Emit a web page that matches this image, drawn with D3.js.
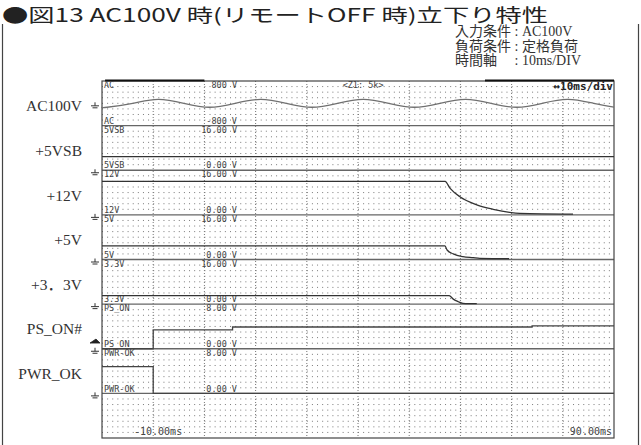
<!DOCTYPE html>
<html>
<head>
<meta charset="utf-8">
<script src="https://cdn.jsdelivr.net/npm/d3@7"></script>
<style>
    body { margin: 0; background: #fff; }
    svg { display: block; }
    .scope-txt { font-family: 'DejaVu Sans Mono', monospace; font-size: 8.5px; fill: #444; }
    .side { font-family: 'Liberation Serif', 'DejaVu Serif', 'Noto Sans CJK JP', serif; font-size: 15.5px; fill: #333; }
    .note { font-family: 'Liberation Serif', 'Noto Sans CJK JP', serif; font-size: 14px; fill: #333; }
</style>
</head>
<body>
<svg width="641" height="445"></svg>
<script>
// channel rows, top to bottom
const channels = ['AC', '5VSB', '12V', '5V', '3.3V', 'PS_ON', 'PWR-OK'];
const sideLabels = ['AC100V', '+5VSB', '+12V', '+5V', '+3．3V', 'PS_ON#', 'PWR_OK'];
const topScale = ['800 V', '16.00 V', '16.00 V', '16.00 V', '16.00 V', '8.00 V', '8.00 V'];
const bottomScale = ['-800 V', '0.00 V', '0.00 V', '0.00 V', '0.00 V', '0.00 V', '0.00 V'];
const ranges = [[-800, 800], [0, 16], [0, 16], [0, 16], [0, 16], [0, 8], [0, 8]];
const timeLabels = ['-10.00ms', '90.00ms'];

// traces (time ms / volts)
const acTime = [-10, -9, -4, 1, 6, 11, 16, 21, 26, 31, 36, 41, 46, 51, 56, 61, 66, 71, 76, 81, 86, 90];
const acVolt = [-134, -141, 0, 141, 0, -141, 0, 141, 0, -141, 0, 141, 0, -141, 0, 141, 0, -141, 0, 141, 0, -134];
const vsbTime = [-10, 90];
const vsbVolt = [4.9, 4.9];
const v12Time = [-10, 57, 58, 59.9, 63.2, 66.4, 69.6, 71.6, 82];
const v12Volt = [12, 12, 9.5, 6.5, 3.6, 2.0, 0.9, 0.55, 0.3];
const v5Time = [-10, 57, 57.4, 58.6, 60.5, 62.5, 63.8, 69.5];
const v5Volt = [4.85, 4.85, 3.4, 2.0, 1.0, 0.65, 0.43, 0.3];
const v33Time = [-10, 57.8, 58.6, 59.6, 60.5, 63.2];
const v33Volt = [3.05, 3.05, 1.8, 0.86, 0.3, 0.15];
const psonTime = [-10, 0, 15.5, 74, 90];
const psonVolt = [0, 3.4, 3.9, 4.1, 4.1];
const pwrokTime = [-10, 0, 90];
const pwrokVolt = [4.8, 0, 0];

const zoomBar = [[-9.4, 10], [64.8, 90]];
const trigLevel = 1.2;

const svg = d3.select('svg');

const xScale = d3.scaleLinear().domain([-10, 90]).range([102, 614]);
const divScale = d3.scaleLinear().domain([0, 8]).range([81, 438]);
const yScales = ranges.map((r, i) => d3.scaleLinear().domain(r).range([divScale(i + 1), divScale(i)]));

// outer frame bits
svg.append('line').attr('x1', 2.5).attr('x2', 2.5).attr('y1', 24).attr('y2', 445)
    .attr('stroke', '#444').attr('stroke-width', 1.2);
svg.append('line').attr('x1', 638.5).attr('x2', 638.5).attr('y1', 24).attr('y2', 445)
    .attr('stroke', '#444').attr('stroke-width', 1.2);

// title + conditions
svg.append('text')
    .attr('x', 2).attr('y', 21.5)
    .attr('textLength', 546).attr('lengthAdjust', 'spacingAndGlyphs')
    .style('font-family', "'Noto Sans CJK JP', sans-serif")
    .style('font-size', '18.5px').style('fill', '#222')
    .text('●図13 AC100V 時(リモートOFF 時)立下り特性');

const notes = ['入力条件 : AC100V', '負荷条件 : 定格負荷', '時間軸　 : 10ms/DIV'];
svg.selectAll('.note').data(notes).enter().append('text')
    .attr('class', 'note')
    .attr('x', 455)
    .attr('y', (d, i) => 36 + i * 14.5)
    .text(d => d);

// grid
const grid = svg.append('g');
const rows = d3.range(0, 64).filter(k => k % 8 !== 0).map(k => k / 8);
grid.selectAll('.dotrow').data(rows).enter().append('line')
    .attr('x1', xScale(-10)).attr('x2', xScale(90))
    .attr('y1', d => divScale(d)).attr('y2', d => divScale(d))
    .attr('stroke', '#7a7a7a').attr('stroke-width', 1)
    .attr('stroke-dasharray', '1 4.12');

grid.selectAll('.vmajor').data(d3.range(0, 90, 10)).enter().append('line')
    .attr('x1', d => xScale(d)).attr('x2', d => xScale(d))
    .attr('y1', divScale(0)).attr('y2', divScale(8))
    .attr('stroke', '#777').attr('stroke-width', 1)
    .attr('stroke-dasharray', '1 2');

grid.selectAll('.hmajor').data(d3.range(1, 8)).enter().append('line')
    .attr('x1', xScale(-10)).attr('x2', xScale(90))
    .attr('y1', d => divScale(d)).attr('y2', d => divScale(d))
    .attr('stroke', '#666').attr('stroke-width', 1.3);

grid.append('rect')
    .attr('x', xScale(-10)).attr('y', divScale(0))
    .attr('width', xScale(90) - xScale(-10)).attr('height', divScale(8) - divScale(0))
    .attr('fill', 'none').attr('stroke', '#444').attr('stroke-width', 1.2);

grid.selectAll('.zbar').data(zoomBar).enter().append('line')
    .attr('x1', d => xScale(d[0])).attr('x2', d => xScale(d[1]))
    .attr('y1', divScale(0) - 0.5).attr('y2', divScale(0) - 0.5)
    .attr('stroke', '#111').attr('stroke-width', 2.2);

// channel labels inside the scope
channels.forEach((c, i) => {
    const top = divScale(i), bot = divScale(i + 1);
    svg.append('text').attr('class', 'scope-txt').attr('x', 104).attr('y', top + 7).text(c);
    svg.append('text').attr('class', 'scope-txt').attr('x', 237).attr('y', top + 7)
        .attr('text-anchor', 'end').text(topScale[i]);
    svg.append('text').attr('class', 'scope-txt').attr('x', 104).attr('y', bot - 1.8).text(c);
    svg.append('text').attr('class', 'scope-txt').attr('x', 237).attr('y', bot - 1.8)
        .attr('text-anchor', 'end').text(bottomScale[i]);

    svg.append('text').attr('class', 'side')
        .attr('x', 82).attr('y', (top + bot) / 2 + 8)
        .attr('text-anchor', 'end').text(sideLabels[i]);

    // ground marker at the 0 V level
    const g0 = yScales[i](0);
    svg.append('path')
        .attr('d', `M95,${g0 - 1}V${g0 + 2.5}M91,${g0 + 2.5}H99M92.5,${g0 + 4.5}H97.5`)
        .attr('stroke', '#333').attr('stroke-width', 1).attr('fill', 'none');
});

svg.append('text').attr('class', 'scope-txt').attr('x', xScale(37)).attr('y', divScale(0) + 7)
    .text('<Z1: 5k>');
svg.append('text').attr('x', 613).attr('y', divScale(0) + 9)
    .attr('text-anchor', 'end')
    .style('font-family', "'DejaVu Sans Mono', monospace").style('font-size', '11px')
    .style('font-weight', 'bold').style('fill', '#222')
    .text('↔10ms/div');

svg.append('text').attr('class', 'scope-txt').style('font-size', '10px')
    .attr('x', xScale(-10) + 32).attr('y', divScale(8) - 3).text(timeLabels[0]);
svg.append('text').attr('class', 'scope-txt').style('font-size', '10px')
    .attr('x', xScale(90) - 2).attr('y', divScale(8) - 3)
    .attr('text-anchor', 'end').text(timeLabels[1]);

// trigger marker on PS_ON
const ty = yScales[5](trigLevel);
svg.append('path')
    .attr('d', `M90,${ty + 1}H100L96,${ty - 3}Z`)
    .attr('fill', '#222').attr('stroke', '#222').attr('stroke-width', 0.8);

// traces
const traces = [
    { ch: 0, t: acTime, v: acVolt, curve: d3.curveNatural, color: '#707070' },
    { ch: 1, t: vsbTime, v: vsbVolt, curve: d3.curveLinear, color: '#333' },
    { ch: 2, t: v12Time, v: v12Volt, curve: d3.curveMonotoneX, color: '#333' },
    { ch: 3, t: v5Time, v: v5Volt, curve: d3.curveMonotoneX, color: '#333' },
    { ch: 4, t: v33Time, v: v33Volt, curve: d3.curveMonotoneX, color: '#333' },
    { ch: 5, t: psonTime, v: psonVolt, curve: d3.curveStepAfter, color: '#444' },
    { ch: 6, t: pwrokTime, v: pwrokVolt, curve: d3.curveStepAfter, color: '#444' }
];

traces.forEach(tr => {
    const line = d3.line()
        .x(d => xScale(d[0]))
        .y(d => yScales[tr.ch](d[1]))
        .curve(tr.curve);
    svg.append('path')
        .datum(tr.t.map((t, i) => [t, tr.v[i]]))
        .attr('d', line)
        .attr('fill', 'none')
        .attr('stroke', tr.color)
        .attr('stroke-width', 1.3);
});
</script>
</body>
</html>
